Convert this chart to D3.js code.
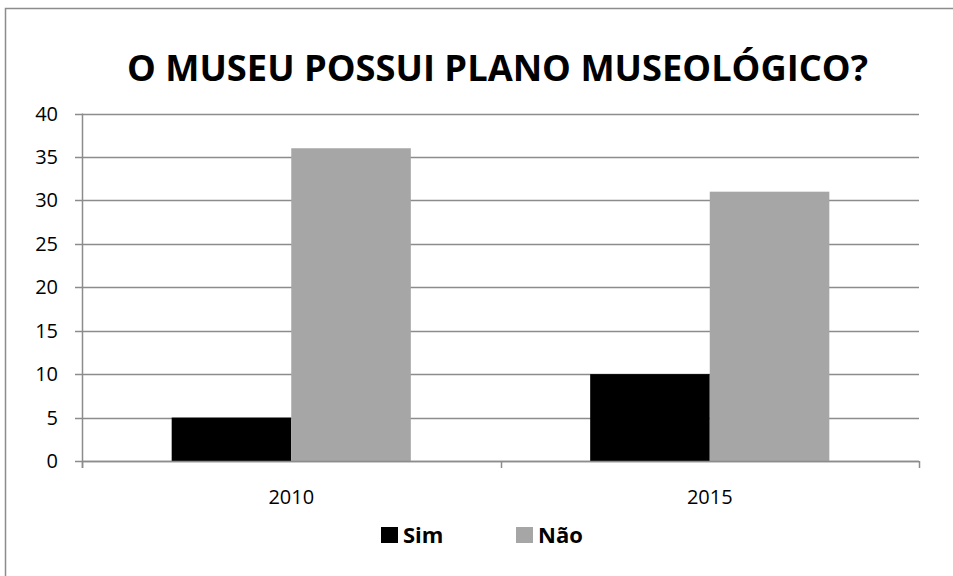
<!DOCTYPE html>
<html>
<head>
<meta charset="utf-8">
<script src="https://cdn.jsdelivr.net/npm/d3@7"></script>
<style>
body { margin: 0; background: #fff; }
text { font-family: "Open Sans", "Noto Sans", sans-serif; }
</style>
</head>
<body>
<svg id="chart" width="953" height="576"></svg>
<script>
var years = ["2010", "2015"];
var series = ["Sim", "Não"];
var sim = [5, 10];
var nao = [36, 31];
var yTicks = [0, 5, 10, 15, 20, 25, 30, 35, 40];
var colors = ["#000000", "#a6a6a6"];

var svg = d3.select("#chart"),
    width = +svg.attr("width"),
    height = +svg.attr("height");

// chart frame (runs off the right/bottom edge)
svg.append("rect")
    .attr("x", 5.5).attr("y", 8.5)
    .attr("width", 1000).attr("height", 700)
    .attr("fill", "white")
    .attr("stroke", "#8c8c8c")
    .attr("stroke-width", 1.5);

svg.append("text")
    .attr("x", 497.5)
    .attr("y", 81)
    .attr("text-anchor", "middle")
    .attr("font-weight", "bold")
    .attr("font-size", 36)
    .attr("textLength", 741)
    .attr("lengthAdjust", "spacingAndGlyphs")
    .text("O MUSEU POSSUI PLANO MUSEOLÓGICO?");

var plotL = 82, plotR = 919, plotT = 113.5, plotB = 461;

var y = d3.scaleLinear().domain([0, 40]).range([plotB, plotT]);
var x0 = d3.scaleBand().domain(years).range([plotL, plotR]).padding(0);
var x1 = d3.scaleBand().domain(series).range([0, x0.bandwidth()])
    .paddingInner(0).paddingOuter(0.75);

// gridlines + y ticks
svg.append("g")
    .selectAll("line")
    .data(yTicks)
    .enter().append("line")
    .attr("x1", plotL - 7).attr("x2", plotR)
    .attr("y1", function (d) { return Math.round(y(d)) + 0.5; })
    .attr("y2", function (d) { return Math.round(y(d)) + 0.5; })
    .attr("stroke", "#8c8c8c")
    .attr("stroke-width", 1.5);

svg.append("g")
    .selectAll("text")
    .data(yTicks)
    .enter().append("text")
    .attr("x", 58)
    .attr("y", function (d) { return y(d) + 7; })
    .attr("text-anchor", "end")
    .attr("font-size", 20)
    .text(function (d) { return d; });

// bars
var rows = years.map(function (yr, i) { return { year: yr, values: [sim[i], nao[i]] }; });
svg.append("g")
    .selectAll("g")
    .data(rows)
    .enter().append("g")
    .attr("transform", function (d) { return "translate(" + x0(d.year) + ",0)"; })
    .selectAll("rect")
    .data(function (d) { return d.values; })
    .enter().append("rect")
    .attr("x", function (d, i) { return x1(series[i]); })
    .attr("width", x1.bandwidth())
    .attr("y", function (d) { return y(d); })
    .attr("height", function (d) { return plotB - y(d); })
    .attr("fill", function (d, i) { return colors[i]; });

// axis lines
svg.append("line")
    .attr("x1", plotL + 0.5).attr("x2", plotL + 0.5)
    .attr("y1", plotT).attr("y2", plotB + 7)
    .attr("stroke", "#8c8c8c").attr("stroke-width", 1.5);
svg.append("line")
    .attr("x1", plotL).attr("x2", plotR)
    .attr("y1", Math.round(plotB) + 0.5).attr("y2", Math.round(plotB) + 0.5)
    .attr("stroke", "#8c8c8c").attr("stroke-width", 1.5);

var xTicks = years.map(function (d) { return x0(d); }).concat([plotR]);
svg.append("g")
    .selectAll("line")
    .data(xTicks)
    .enter().append("line")
    .attr("x1", function (d) { return Math.round(d) + 0.5; })
    .attr("x2", function (d) { return Math.round(d) + 0.5; })
    .attr("y1", plotB).attr("y2", plotB + 7)
    .attr("stroke", "#8c8c8c").attr("stroke-width", 1.5);

svg.append("g")
    .selectAll("text")
    .data(years)
    .enter().append("text")
    .attr("x", function (d) { return x0(d) + x0.bandwidth() / 2; })
    .attr("y", 504)
    .attr("text-anchor", "middle")
    .attr("font-size", 20)
    .text(function (d) { return d; });

// legend
var legendX = [381, 516];
var lg = svg.append("g")
    .selectAll("g")
    .data(series)
    .enter().append("g")
    .attr("transform", function (d, i) { return "translate(" + legendX[i] + ",527)"; });
lg.append("rect")
    .attr("width", 17).attr("height", 16)
    .attr("fill", function (d, i) { return colors[i]; });
lg.append("text")
    .attr("x", 22)
    .attr("y", 16)
    .attr("font-size", 22)
    .attr("font-weight", "bold")
    .text(function (d) { return d; });
</script>
</body>
</html>
